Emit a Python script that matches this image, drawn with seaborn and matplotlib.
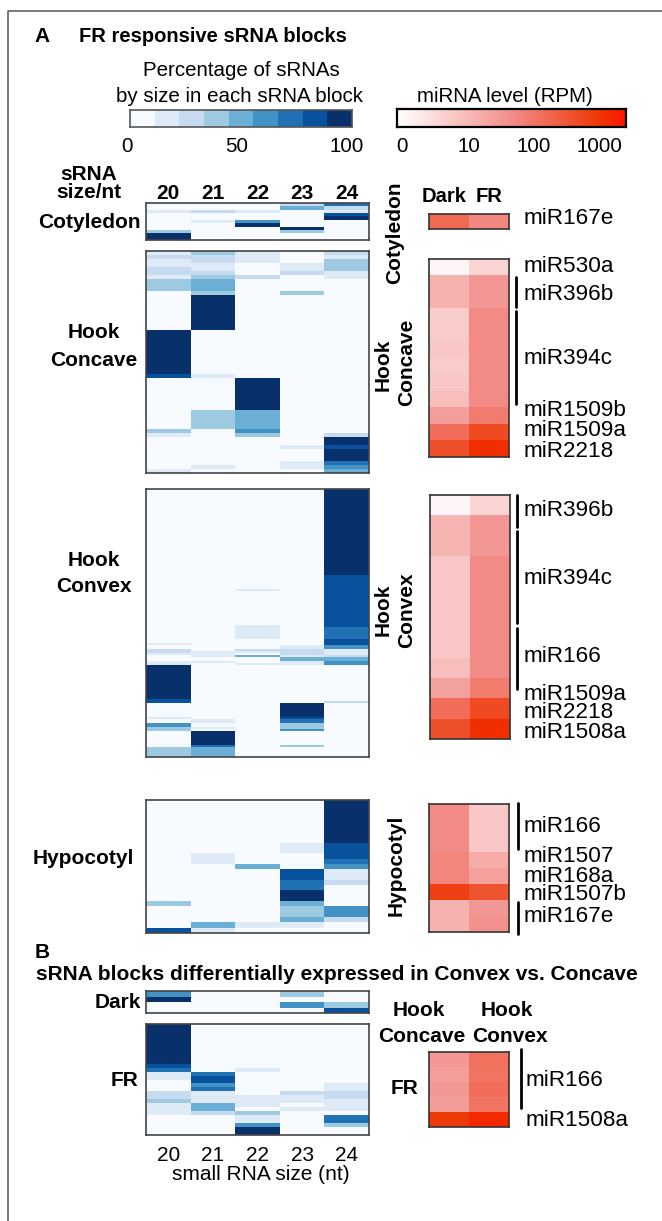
import numpy as np
import pandas as pd
import matplotlib.pyplot as plt
from matplotlib.colors import LinearSegmentedColormap
from matplotlib.lines import Line2D
import seaborn as sns

sns.set_style('white')
plt.rcParams['font.family'] = ['Liberation Sans', 'DejaVu Sans']
plt.rcParams['text.color'] = 'black'
plt.rcParams['xtick.color'] = 'black'

W, H = 662, 1221

sizes = ['20', '21', '22', '23', '24']

# percentage of sRNAs by size, one row per run of similar blocks
cotyledon_counts = [1, 1, 1, 1, 1, 1, 1, 1, 1, 2]
cotyledon_pct = [[2, 2, 2, 25, 70], [2, 2, 2, 50, 25], [15, 25, 15, 2, 15], [2, 2, 2, 2, 80],
                 [2, 2, 2, 2, 95], [2, 15, 60, 2, 2], [2, 2, 95, 2, 2], [2, 2, 2, 95, 2],
                 [38, 2, 2, 38, 2], [95, 2, 2, 2, 2]]

concave_counts = [1, 1, 1, 1, 1, 1, 1, 3, 1, 9, 11, 1, 8, 5, 1, 1, 2, 1, 3, 1, 1, 1]
concave_pct = [[15, 38, 15, 2, 25], [25, 25, 15, 2, 15], [15, 25, 15, 2, 38], [15, 15, 2, 15, 38],
               [25, 15, 2, 15, 38], [25, 25, 2, 25, 15], [15, 38, 25, 2, 15], [38, 50, 2, 2, 2],
               [2, 38, 2, 38, 2], [2, 95, 2, 2, 2], [95, 2, 2, 2, 2], [80, 15, 2, 2, 2],
               [2, 2, 95, 2, 2], [2, 38, 50, 2, 2], [38, 2, 60, 2, 2], [15, 2, 38, 2, 25],
               [2, 2, 2, 2, 95], [2, 2, 2, 15, 80], [2, 2, 2, 2, 95], [2, 2, 2, 15, 70],
               [2, 15, 2, 15, 60], [15, 2, 2, 2, 50]]

convex_counts = [43, 7, 1, 17, 1, 6, 2, 1, 2, 1, 1, 1, 1, 2, 1, 1, 17, 1, 1, 7, 1, 2, 2, 1, 1, 7, 1, 5]
convex_pct = [[2, 2, 2, 2, 95], [2, 2, 2, 2, 80], [2, 2, 15, 2, 80], [2, 2, 2, 2, 80],
              [2, 2, 15, 2, 80], [2, 2, 15, 2, 70], [2, 2, 2, 2, 80], [15, 2, 2, 2, 80],
              [2, 2, 2, 15, 60], [25, 2, 25, 25, 15], [25, 15, 15, 25, 15], [15, 15, 2, 25, 15],
              [2, 15, 50, 15, 25], [2, 2, 2, 50, 50], [15, 15, 2, 15, 60], [15, 2, 15, 15, 60],
              [95, 2, 2, 2, 2], [80, 2, 2, 2, 2], [80, 2, 2, 2, 25], [2, 2, 2, 95, 2],
              [15, 2, 2, 80, 2], [2, 15, 2, 70, 2], [60, 2, 2, 38, 2], [38, 15, 2, 38, 2],
              [38, 2, 2, 60, 2], [2, 95, 2, 2, 2], [2, 70, 2, 38, 2], [38, 50, 2, 2, 2]]

hypocotyl_counts = [8, 2, 1, 1, 1, 2, 1, 1, 2, 1, 2, 1, 1, 1]
hypocotyl_pct = [[2, 2, 2, 2, 95], [2, 2, 2, 15, 80], [2, 15, 2, 2, 80], [2, 15, 2, 2, 70],
                 [2, 2, 50, 2, 60], [2, 2, 2, 80, 15], [2, 2, 2, 70, 25], [2, 2, 2, 70, 2],
                 [2, 2, 2, 95, 2], [38, 2, 2, 50, 2], [2, 2, 2, 38, 60], [2, 2, 2, 50, 25],
                 [2, 50, 15, 15, 2], [80, 15, 2, 2, 2]]

b_dark_counts = [1, 1, 1, 1]
b_dark_pct = [[60, 2, 2, 38, 2], [95, 2, 2, 2, 2], [2, 2, 2, 60, 38], [2, 2, 2, 2, 80]]

b_fr_counts = [10, 1, 1, 1, 1, 1, 1, 1, 1, 1, 1, 1, 1, 1, 2, 1, 2]
b_fr_pct = [[95, 2, 2, 2, 2], [80, 2, 2, 2, 2], [70, 2, 15, 2, 2], [15, 70, 2, 2, 2],
            [15, 80, 2, 2, 2], [2, 80, 2, 2, 2], [2, 60, 2, 2, 15], [2, 70, 2, 2, 15],
            [25, 15, 2, 25, 25], [25, 15, 15, 15, 25], [38, 15, 15, 15, 15], [15, 50, 15, 2, 15],
            [15, 50, 2, 15, 15], [15, 25, 38, 2, 2], [2, 2, 15, 2, 70], [2, 2, 60, 2, 38],
            [2, 2, 95, 2, 2]]

pct_legend = [5, 15, 25, 38, 50, 60, 70, 80, 95]

# miRNA levels on the colour bar scale
cot_dark, cot_fr = [2.3], [1.85]
con_dark = [0.14, 1.2, 1.2, 0.8, 0.8, 0.85, 0.8, 0.85, 1.0, 1.5, 2.25, 2.7]
con_fr = [0.65, 1.6, 1.6, 1.8, 1.8, 1.8, 1.8, 1.8, 1.8, 2.05, 2.8, 3.2]
vex_dark = [0.14, 1.15, 1.15, 0.85, 0.85, 0.85, 0.85, 0.85, 1.0, 1.45, 2.25, 2.7]
vex_fr = [0.65, 1.6, 1.6, 1.8, 1.8, 1.8, 1.8, 1.8, 1.8, 2.05, 2.8, 3.2]
hyp_dark = [1.8, 1.8, 1.8, 1.9, 1.9, 2.95, 1.2, 1.2]
hyp_fr = [0.85, 0.85, 0.85, 1.3, 1.45, 2.65, 1.6, 1.7]
b_concave = [1.6, 1.5, 1.6, 1.5, 3.05]
b_convex = [2.2, 2.15, 2.25, 2.15, 3.25]

fig = plt.figure(figsize=(W / 100, H / 100), dpi=100, facecolor='white')

blues = plt.get_cmap('Blues', 9)
reds = LinearSegmentedColormap.from_list(
    'mirna', [(0, '#ffffff'), (0.5, '#f28e8a'), (0.9, '#ee3300'), (1, '#ff1500')])


def panel(left, top, right, bottom):
    return fig.add_axes([left / W, 1 - bottom / H, (right - left) / W, (bottom - top) / H])


def frame(ax, color='#444444', lw=1.2):
    for s in ax.spines.values():
        s.set_visible(True)
        s.set_color(color)
        s.set_linewidth(lw)


def block_map(top, bottom, counts, pct, ticks=None):
    ax = panel(146, top, 369, bottom)
    df = pd.DataFrame(np.repeat(pct, counts, axis=0), columns=sizes)
    sns.heatmap(df, ax=ax, cmap=blues, vmin=0, vmax=100, cbar=False, yticklabels=False,
                xticklabels=ticks is not None)
    ax.set_xlabel('')
    frame(ax)
    return ax


def mirna_map(left, right, top, bottom, col_a, col_b):
    ax = panel(left, top, right, bottom)
    df = pd.DataFrame({'a': col_a, 'b': col_b})
    sns.heatmap(df, ax=ax, cmap=reds, vmin=0, vmax=3.5, cbar=False, xticklabels=False, yticklabels=False)
    frame(ax, '#333333', 1.2)
    return ax


def txt(x, y, s, size=14.8, weight='normal', ha='center', rot=0):
    fig.text(x / W, 1 - y / H, s, fontsize=size, fontweight=weight, ha=ha, va='center', rotation=rot)


def bar(x, y0, y1):
    fig.add_artist(Line2D([x / W, x / W], [1 - y0 / H, 1 - y1 / H], color='black', lw=2))


# outer frame, only top and left are in the crop
fig.add_artist(Line2D([8 / W, 8 / W, 1], [0, 1 - 11 / H, 1 - 11 / H], color='#555555', lw=1.1))

# legends
ax = panel(130, 110, 352, 127)
sns.heatmap(pd.DataFrame([pct_legend]), ax=ax, cmap=blues, vmin=0, vmax=100, cbar=False,
            xticklabels=False, yticklabels=False)
frame(ax, '#555555', 1.2)

ax = panel(397, 109, 626, 127)
sns.heatmap(pd.DataFrame([np.linspace(0, 3.5, 200)]), ax=ax, cmap=reds, vmin=0, vmax=3.5, cbar=False,
            xticklabels=False, yticklabels=False)
frame(ax, 'black', 1.6)

txt(42, 37, 'A', 15, 'bold')
txt(79, 37, 'FR responsive sRNA blocks', 14.5, 'bold', ha='left')
txt(241, 71, 'Percentage of sRNAs')
txt(240, 96, 'by size in each sRNA block')
txt(505, 96, 'miRNA level (RPM)')
for x, s in zip([127, 237, 347], ['0', '50', '100']):
    txt(x, 146, s)
for x, s in zip([402, 469, 534, 599], ['0', '10', '100', '1000']):
    txt(x, 146, s)

# sRNA size heatmaps
ax = block_map(203, 240, cotyledon_counts, cotyledon_pct, ticks=True)
ax.xaxis.tick_top()
ax.tick_params(axis='x', length=0, pad=0, labelsize=15, rotation=0)
for t in ax.get_xticklabels():
    t.set_fontweight('bold')
block_map(251, 473, concave_counts, concave_pct)
block_map(489, 757, convex_counts, convex_pct)
block_map(800, 933, hypocotyl_counts, hypocotyl_pct)
block_map(991, 1013, b_dark_counts, b_dark_pct)
ax = block_map(1024, 1135, b_fr_counts, b_fr_pct, ticks=True)
ax.tick_params(axis='x', length=0, pad=8, labelsize=15, rotation=0)

txt(89, 175, 'sRNA', 15, 'bold')
txt(89, 193, 'size/nt', 15, 'bold')
txt(89.5, 222, 'Cotyledon', 15, 'bold')
txt(94, 333, 'Hook', 15, 'bold')
txt(94, 360, 'Concave', 15, 'bold')
txt(94, 560, 'Hook', 15, 'bold')
txt(94, 586, 'Convex', 15, 'bold')
txt(83, 858, 'Hypocotyl', 15, 'bold')
txt(118, 1002, 'Dark', 15, 'bold')
txt(124, 1080, 'FR', 15, 'bold')
txt(261, 1174, 'small RNA size (nt)', 15)

# miRNA heatmaps
mirna_map(429, 509, 214, 229, cot_dark, cot_fr)
mirna_map(429, 509, 259, 457, con_dark, con_fr)
mirna_map(430, 510, 495, 739, vex_dark, vex_fr)
mirna_map(429, 509, 804, 932, hyp_dark, hyp_fr)
mirna_map(429, 509, 1052, 1127, b_concave, b_convex)

txt(444, 197, 'Dark', 14.5, 'bold')
txt(489, 197, 'FR', 14.5, 'bold')
txt(395, 233, 'Cotyledon', 15, 'bold', rot=90)
txt(383, 365, 'Hook', 15, 'bold', rot=90)
txt(407, 362, 'Concave', 15, 'bold', rot=90)
txt(383, 610, 'Hook', 15, 'bold', rot=90)
txt(407, 610, 'Convex', 15, 'bold', rot=90)
txt(396, 865, 'Hypocotyl', 15, 'bold', rot=90)

for y, s in zip([219, 267, 294, 358, 410, 431, 452],
                ['miR167e', 'miR530a', 'miR396b', 'miR394c', 'miR1509b', 'miR1509a', 'miR2218']):
    txt(524, y, s, 16.2, ha='left')
for y, s in zip([511, 578, 656, 694, 713, 732],
                ['miR396b', 'miR394c', 'miR166', 'miR1509a', 'miR2218', 'miR1508a']):
    txt(524, y, s, 16.2, ha='left')
for y, s in zip([827, 856, 876, 895, 917],
                ['miR166', 'miR1507', 'miR168a', 'miR1507b', 'miR167e']):
    txt(524, y, s, 16.2, ha='left')
for y, s in zip([1080, 1120], ['miR166', 'miR1508a']):
    txt(526, y, s, 16.2, ha='left')

bar(515.7, 277, 307)
bar(516, 311, 404)
bar(516.7, 495, 527)
bar(516.7, 531, 623)
bar(517, 628, 689)
bar(517.7, 803, 849)
bar(518, 902, 934)
bar(520.7, 1049, 1108)

txt(42, 952, 'B', 15, 'bold')
txt(337, 975, 'sRNA blocks differentially expressed in Convex vs. Concave', 15, 'bold')
txt(419, 1011, 'Hook', 15, 'bold')
txt(422, 1036, 'Concave', 15, 'bold')
txt(507, 1011, 'Hook', 15, 'bold')
txt(510, 1036, 'Convex', 15, 'bold')
txt(404, 1089, 'FR', 15, 'bold')

fig.savefig('out.png', dpi=100)
